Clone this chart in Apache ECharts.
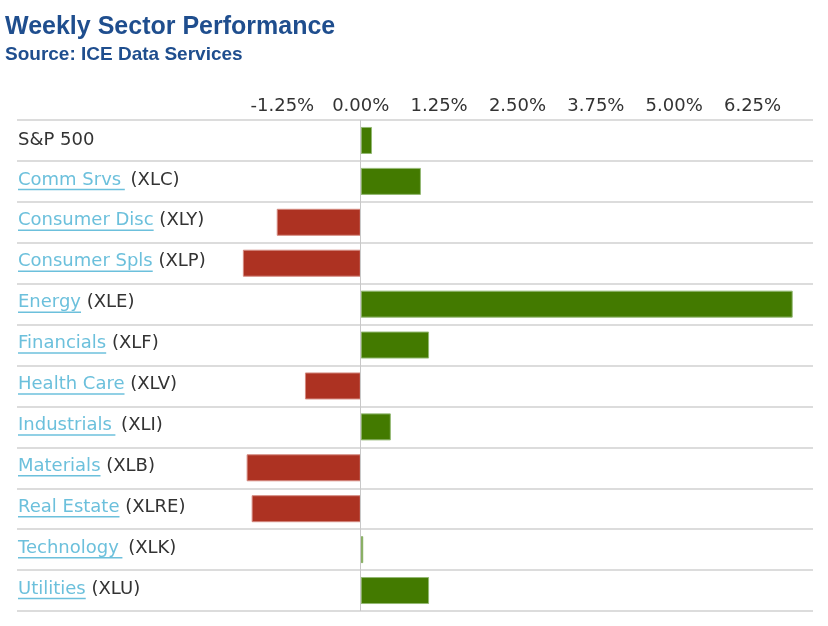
<!DOCTYPE html>
<html>
<head>
<meta charset="utf-8">
<script src="https://cdn.jsdelivr.net/npm/echarts@6/dist/echarts.min.js"></script>
<style>
  html, body { margin: 0; padding: 0; background: #ffffff; }
  #chart { width: 828px; height: 626px; }
</style>
</head>
<body>
<div id="chart"></div>
<script>
// ---- Data ----
const sectors = ['S&P 500', 'Comm Srvs\u2009', 'Consumer Disc', 'Consumer Spls', 'Energy', 'Financials',
                 'Health Care', 'Industrials\u2009', 'Materials', 'Real Estate', 'Technology\u2009', 'Utilities'];
const tickers = ['', 'XLC', 'XLY', 'XLP', 'XLE', 'XLF', 'XLV', 'XLI', 'XLB', 'XLRE', 'XLK', 'XLU'];
const weeklyChange = [0.18, 0.96, -1.34, -1.88, 6.89, 1.09, -0.89, 0.48, -1.82, -1.74, 0.04, 1.09];
const tickLabels = ['-1.25%', '0.00%', '1.25%', '2.50%', '3.75%', '5.00%', '6.25%'];

// ---- Styles ----
const LINK = '#6cc0dc';
const TEXT = '#333333';
const GREEN = '#437a00';
const RED = '#ad3222';
const FONT = 'DejaVu Sans';

const chart = echarts.init(document.getElementById('chart'), null, { renderer: 'canvas' });

const labelFor = (v) => {
  const idx = sectors.indexOf(v);
  if (!tickers[idx]) return '{p|' + v + '}';
  return '{n|' + v + '}{t| (' + tickers[idx] + ')}\n{u|' + v + '}';
};

const option = {
  backgroundColor: '#ffffff',
  animation: false,
  title: [
    { text: 'Weekly Sector Performance', left: 5, top: 15, padding: 0,
      textStyle: { fontFamily: 'Liberation Sans', fontWeight: 'bold', fontSize: 25, color: '#1f4e8e' } },
    { text: 'Source: ICE Data Services', left: 5, top: 45, padding: 0,
      textStyle: { fontFamily: 'Liberation Sans', fontWeight: 'bold', fontSize: 19, color: '#1f4e8e' } }
  ],
  grid: [
    { left: 17, right: 15, top: 120, bottom: 15 },
    { left: 204, right: 28.4, top: 120, bottom: 15 }
  ],
  xAxis: [
    { gridIndex: 0, type: 'value', min: 0, max: 1, show: false },
    { gridIndex: 1, type: 'value', position: 'top', min: -2.5, max: 7, interval: 1.25,
      axisLine: { show: false }, axisTick: { show: false }, splitLine: { show: false },
      axisLabel: {
        margin: 5, color: TEXT, fontFamily: FONT, fontSize: 18,
        formatter: v => {
          const s = (v < 0 ? '-' : '') + Math.abs(v).toFixed(2) + '%';
          return tickLabels.indexOf(s) >= 0 ? s : '';
        }
      } }
  ],
  yAxis: [
    { gridIndex: 0, type: 'category', inverse: true, data: sectors,
      axisLine: { show: false }, axisTick: { show: false },
      splitLine: { show: true, lineStyle: { color: '#dcdcdc', width: 2 } },
      axisLabel: {
        inside: true, margin: 1, align: 'left', formatter: labelFor,
        rich: {
          p: { color: TEXT, fontFamily: FONT, fontSize: 18, lineHeight: 18 },
          n: { color: LINK, fontFamily: FONT, fontSize: 18, lineHeight: 16 },
          t: { color: TEXT, fontFamily: FONT, fontSize: 18, lineHeight: 16 },
          u: { color: 'rgba(0,0,0,0)', fontFamily: FONT, fontSize: 18, height: 1.5, lineHeight: 3, backgroundColor: LINK }
        }
      } },
    { gridIndex: 1, type: 'category', inverse: true, data: sectors, show: false }
  ],
  series: [{
    type: 'bar',
    xAxisIndex: 1, yAxisIndex: 1,
    barWidth: 27,
    data: weeklyChange.map(v => ({
      value: v,
      itemStyle: { color: v >= 0 ? GREEN : RED, borderColor: v >= 0 ? '#93b873' : '#d48a80', borderWidth: 1 }
    })),
    markLine: {
      silent: true, symbol: 'none', label: { show: false },
      lineStyle: { color: '#c8c8c8', width: 1, type: 'solid' },
      data: [{ xAxis: 0 }]
    }
  }]
};

chart.setOption(option);
</script>
</body>
</html>
